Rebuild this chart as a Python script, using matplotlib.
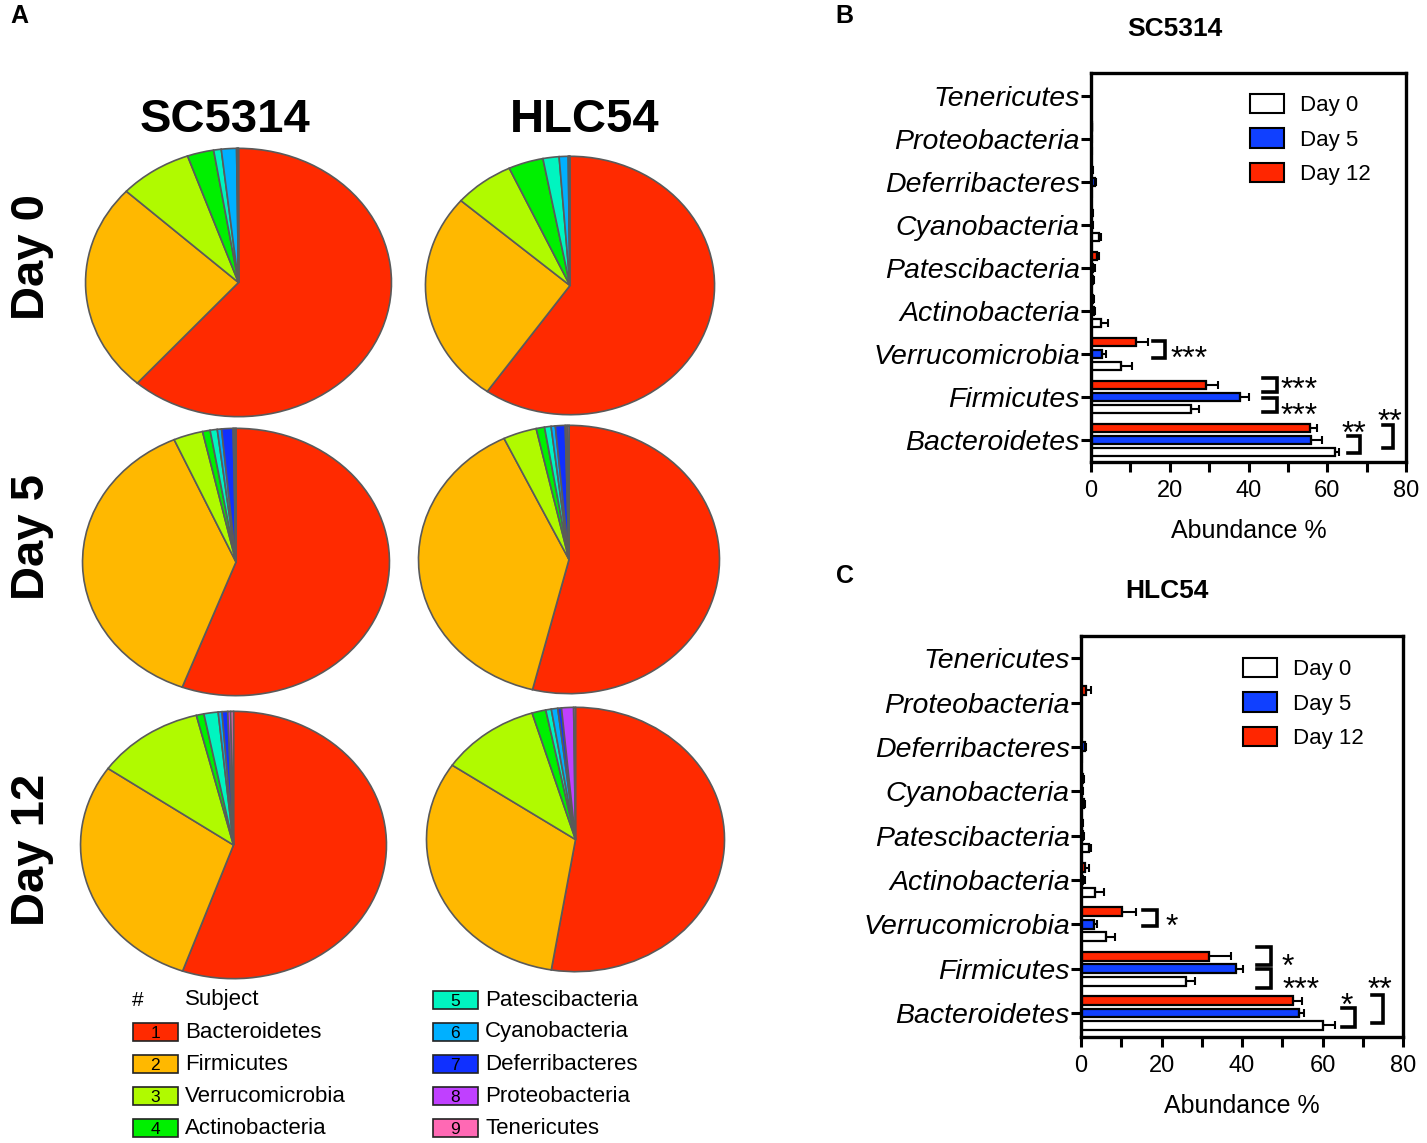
import matplotlib
matplotlib.use("Agg")
from matplotlib import pyplot as plt
from matplotlib.patches import Patch, Rectangle
import numpy as np

plt.rcParams['font.family'] = ['Liberation Sans', 'DejaVu Sans']

W, H = 1427, 1143

# Phyla, bottom-to-top order of the bar charts
phyla = ['Bacteroidetes', 'Firmicutes', 'Verrucomicrobia', 'Actinobacteria',
         'Patescibacteria', 'Cyanobacteria', 'Deferribacteres', 'Proteobacteria',
         'Tenericutes']
phyla_colors = ['#ff2a00', '#ffb800', '#b0fa00', '#00f000', '#00f5c0',
                '#00b0ff', '#1030ff', '#c040ff', '#ff69b4']

strains = ['SC5314', 'HLC54']
days = ['Day 0', 'Day 5', 'Day 12']

# Pie composition (%), same order as phyla
pie_sc5314_d0 = [61.5, 25.4, 7.7, 2.8, 0.8, 1.6, 0.1, 0.05, 0.05]
pie_sc5314_d5 = [55.7, 37.7, 3.1, 0.8, 0.75, 0.45, 1.2, 0.15, 0.15]
pie_sc5314_d12 = [55.4, 29.3, 11.4, 0.8, 1.5, 0.4, 0.6, 0.3, 0.3]
pie_hlc54_d0 = [59.7, 26.7, 6.7, 3.9, 1.8, 1.0, 0.1, 0.05, 0.05]
pie_hlc54_d5 = [53.9, 39.0, 3.6, 0.9, 0.7, 0.45, 1.05, 0.2, 0.2]
pie_hlc54_d12 = [52.6, 31.9, 10.8, 1.5, 0.6, 0.7, 0.4, 1.3, 0.2]

# Bar chart means and SEM (%)
sc_d0 = [62.0, 25.5, 7.7, 2.6, 0.5, 2.1, 0.1, 0.1, 0.0]
sc_d0_err = [1.0, 1.9, 2.7, 1.7, 0.3, 0.5, 0.1, 0.1, 0.0]
sc_d5 = [55.9, 37.9, 2.8, 0.8, 0.6, 0.3, 1.0, 0.1, 0.0]
sc_d5_err = [2.8, 2.3, 1.0, 0.3, 0.3, 0.2, 0.3, 0.1, 0.0]
sc_d12 = [55.7, 29.2, 11.5, 0.5, 1.4, 0.3, 0.3, 0.2, 0.0]
sc_d12_err = [1.7, 3.1, 3.1, 0.3, 0.7, 0.2, 0.2, 0.1, 0.0]

hl_d0 = [60.1, 26.1, 6.2, 3.5, 1.9, 0.8, 0.1, 0.1, 0.0]
hl_d0_err = [3.1, 2.1, 2.3, 2.1, 0.6, 0.3, 0.1, 0.0, 0.0]
hl_d5 = [54.1, 38.4, 3.2, 0.6, 0.5, 0.3, 1.0, 0.1, 0.0]
hl_d5_err = [1.3, 1.8, 0.8, 0.3, 0.2, 0.2, 0.3, 0.0, 0.0]
hl_d12 = [52.7, 31.7, 10.1, 1.1, 0.3, 0.6, 0.1, 1.2, 0.0]
hl_d12_err = [2.3, 5.6, 3.6, 1.0, 0.2, 0.2, 0.1, 1.4, 0.0]

day_colors = ['white', '#1040ff', '#ff2600']

# significance labels per panel
sig_sc = ['***', '***', '***', '**', '**']
sig_hl = ['*', '*', '***', '*', '**']


def fig_rect(x0, y0, x1, y1):
    return [x0 / W, 1 - y1 / H, (x1 - x0) / W, (y1 - y0) / H]


fig = plt.figure(figsize=(W / 100, H / 100), dpi=100)

# ---------- panel A : pies ----------
pie_boxes = {
    (0, 0): (84, 147, 393, 418), (1, 0): (424, 155, 716, 416),
    (0, 1): (81, 427, 391, 697), (1, 1): (417, 424, 721, 695),
    (0, 2): (79, 710, 388, 980), (1, 2): (425, 706, 726, 973),
}
pie_data = {
    (0, 0): pie_sc5314_d0, (0, 1): pie_sc5314_d5, (0, 2): pie_sc5314_d12,
    (1, 0): pie_hlc54_d0, (1, 1): pie_hlc54_d5, (1, 2): pie_hlc54_d12,
}
for key, box in pie_boxes.items():
    ax = fig.add_axes(fig_rect(*box))
    ax.pie(pie_data[key], colors=phyla_colors, startangle=90, counterclock=False,
           wedgeprops=dict(edgecolor='#5a5a5a', linewidth=1.2))
    ax.set_aspect('auto')
    ax.set_xlim(-1.01, 1.01)
    ax.set_ylim(-1.01, 1.01)
    ax.axis('off')

fig.text(225 / W, 1 - 120 / H, strains[0], fontsize=34, fontweight='bold', ha='center', va='center')
fig.text(585 / W, 1 - 120 / H, strains[1], fontsize=34, fontweight='bold', ha='center', va='center')
for d, yc in zip(days, [257, 537, 850]):
    fig.text(32 / W, 1 - yc / H, d, fontsize=34, fontweight='bold', rotation=90,
             ha='center', va='center')

# pie legend
fig.text(132 / W, 1 - 1000 / H, '#', fontsize=15, va='center')
fig.text(185 / W, 1 - 1000 / H, 'Subject', fontsize=16, va='center')
slots = [(0, 1032), (0, 1064), (0, 1096), (0, 1128),
         (1, 1000), (1, 1032), (1, 1064), (1, 1096), (1, 1128)]
for i, (name, col) in enumerate(zip(phyla, phyla_colors)):
    c, yy = slots[i]
    px = 133 if c == 0 else 433
    fig.patches.append(Rectangle((px / W, 1 - (yy + 9) / H), 45 / W, 18 / H,
                                 transform=fig.transFigure, facecolor=col,
                                 edgecolor='#222222', linewidth=1.2))
    fig.text((px + 22) / W, 1 - (yy + 2) / H, str(i + 1), fontsize=12.5, ha='center', va='center')
    fig.text((px + 52) / W, 1 - yy / H, name, fontsize=16, va='center')

# panel letters
fig.text(10 / W, 1 - 16 / H, 'A', fontsize=18, fontweight='bold', va='center')
fig.text(835 / W, 1 - 16 / H, 'B', fontsize=18, fontweight='bold', va='center')
fig.text(836 / W, 1 - 576 / H, 'C', fontsize=18, fontweight='bold', va='center')


# ---------- panels B and C : bars ----------
def bracket(ax, x, y_lo, y_hi, w):
    ax.plot([x - w, x, x, x - w], [y_hi, y_hi, y_lo, y_lo], color='black',
            linewidth=2.6, solid_joinstyle='miter', clip_on=False)


def bar_panel(rect, title, title_xy, means, errs, ylim, sig, bracket_pos, star_pos, legend_xy):
    ax = fig.add_axes(fig_rect(*rect))
    y = np.arange(len(phyla))
    offsets = [-0.28, 0.0, 0.28]
    for m, e, off, col, lab in zip(means, errs, offsets, day_colors, days):
        ax.barh(y + off, m, height=0.2, color=col, edgecolor='black', linewidth=1.6,
                label=lab, zorder=2)
        ax.errorbar(m, y + off, xerr=[np.zeros(len(m)), e], fmt='none', ecolor='black',
                    elinewidth=1.5, capsize=3, capthick=1.5, zorder=3)
    for lab, (bx, bw, y_lo, y_hi), (sx, sy, ha) in zip(sig, bracket_pos, star_pos):
        bracket(ax, bx, y_lo, y_hi, bw)
        ax.text(sx, sy, lab, fontsize=23, ha=ha, va='baseline')
    ax.set_xlim(0, 80)
    ax.set_ylim(*ylim)
    ax.set_xticks(np.arange(0, 81, 10))
    ax.set_xticklabels(['0', '', '20', '', '40', '', '60', '', '80'])
    ax.set_yticks(y)
    ax.set_yticklabels(phyla, fontstyle='italic', fontsize=20.5)
    ax.tick_params(axis='x', labelsize=17, width=2.2, length=7, pad=6)
    ax.tick_params(axis='y', width=2.2, length=7, pad=1)
    for s in ax.spines.values():
        s.set_linewidth(2.4)
    ax.set_xlabel('Abundance %', fontsize=18, labelpad=12)
    fig.text(title_xy[0] / W, 1 - title_xy[1] / H, title, fontsize=19,
             fontweight='bold', ha='center', va='center')
    handles = [Patch(facecolor=c, edgecolor='black', linewidth=1.5) for c in day_colors]
    ax.legend(handles, days, loc='upper left', bbox_to_anchor=legend_xy,
              bbox_transform=fig.transFigure, frameon=False, fontsize=16,
              handlelength=1.55, handleheight=0.95, handletextpad=0.7,
              labelspacing=0.55, borderaxespad=0, borderpad=0)
    return ax


axB = bar_panel((1091, 73, 1406, 462), strains[0], (1175, 29),
                [sc_d0, sc_d5, sc_d12], [sc_d0_err, sc_d5_err, sc_d12_err],
                (-0.51, 8.53), sig_sc,
                [(18.8, 3.0, 1.90, 2.30), (47.2, 3.5, 1.12, 1.44), (47.2, 3.5, 0.65, 0.98),
                 (68.3, 3.0, -0.30, 0.09), (76.6, 2.5, -0.19, 0.35)],
                [(20.3, 1.67, 'left'), (48.2, 0.95, 'left'), (48.2, 0.35, 'left'),
                 (66.8, -0.07, 'center'), (75.9, 0.21, 'center')],
                (1250 / W, 1 - 94 / H))

axC = bar_panel((1081, 636, 1403, 1037), strains[1], (1167, 591),
                [hl_d0, hl_d5, hl_d12], [hl_d0_err, hl_d5_err, hl_d12_err],
                (-0.54, 8.5), sig_hl,
                [(18.9, 3.5, 1.96, 2.32), (47.2, 3.4, 1.08, 1.49), (47.2, 3.4, 0.56, 0.99),
                 (68.1, 3.3, -0.31, 0.11), (75.0, 2.7, -0.23, 0.41)],
                [(21.1, 1.75, 'left'), (51.4, 0.83, 'center'), (50.0, 0.33, 'left'),
                 (66.1, -0.05, 'center'), (74.3, 0.33, 'center')],
                (1243 / W, 1 - 658 / H))

fig.savefig('out.png', dpi=100)
